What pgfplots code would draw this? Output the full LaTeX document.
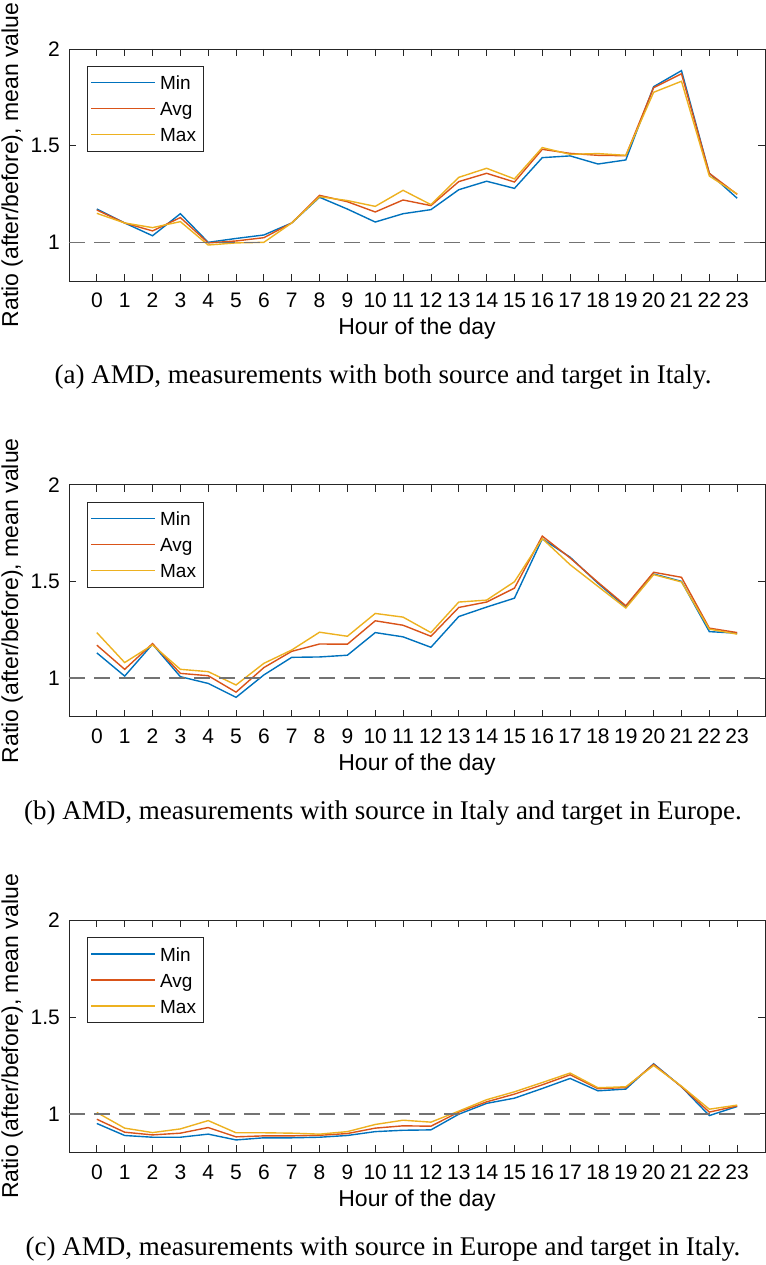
\documentclass[border=0pt]{standalone}
\usepackage{fontspec}
\setmainfont{Liberation Serif}
\setsansfont{Liberation Sans}
\usepackage{pgfplots}
\usepackage{pgfplotstable}
\pgfplotsset{compat=1.18}
\definecolor{mblue}{rgb}{0,0.447,0.741}
\definecolor{mred}{rgb}{0.85,0.325,0.098}
\definecolor{myel}{rgb}{0.929,0.694,0.125}
\definecolor{axgray}{rgb}{0.15,0.15,0.15}
\definecolor{dgray}{rgb}{0.45,0.45,0.45}

\pgfplotstableread{
h min avg max
0 1.172 1.167 1.150
1 1.100 1.100 1.100
2 1.034 1.059 1.076
3 1.148 1.128 1.107
4 1.000 0.997 0.986
5 1.020 1.007 0.997
6 1.038 1.024 1.000
7 1.100 1.100 1.100
8 1.233 1.243 1.236
9 1.172 1.210 1.216
10 1.105 1.157 1.186
11 1.148 1.219 1.269
12 1.169 1.190 1.195
13 1.272 1.314 1.336
14 1.316 1.357 1.383
15 1.279 1.312 1.328
16 1.438 1.481 1.490
17 1.447 1.460 1.455
18 1.405 1.450 1.459
19 1.426 1.448 1.450
20 1.805 1.800 1.776
21 1.888 1.872 1.833
22 1.357 1.357 1.343
23 1.228 1.248 1.250
}\tableA

\pgfplotstableread{
h min avg max
0 1.130 1.170 1.235
1 1.010 1.045 1.080
2 1.175 1.178 1.171
3 1.007 1.024 1.045
4 0.972 1.012 1.033
5 0.900 0.927 0.964
6 1.016 1.054 1.076
7 1.107 1.138 1.145
8 1.109 1.176 1.237
9 1.118 1.175 1.216
10 1.235 1.296 1.334
11 1.213 1.273 1.315
12 1.159 1.216 1.235
13 1.318 1.365 1.393
14 1.367 1.393 1.403
15 1.413 1.465 1.498
16 1.720 1.734 1.721
17 1.625 1.621 1.586
18 1.490 1.495 1.474
19 1.367 1.374 1.362
20 1.538 1.547 1.535
21 1.500 1.521 1.497
22 1.240 1.258 1.253
23 1.232 1.235 1.227
}\tableB

\pgfplotstableread{
h min avg max
0 0.950 0.972 1.007
1 0.888 0.905 0.926
2 0.879 0.891 0.903
3 0.879 0.900 0.922
4 0.895 0.929 0.965
5 0.865 0.881 0.902
6 0.876 0.886 0.902
7 0.876 0.886 0.900
8 0.879 0.889 0.895
9 0.888 0.898 0.908
10 0.908 0.926 0.945
11 0.915 0.938 0.967
12 0.917 0.936 0.957
13 0.998 1.009 1.014
14 1.054 1.062 1.073
15 1.081 1.102 1.114
16 1.131 1.150 1.162
17 1.183 1.202 1.211
18 1.119 1.130 1.135
19 1.128 1.136 1.140
20 1.259 1.256 1.250
21 1.140 1.140 1.143
22 0.991 1.009 1.024
23 1.038 1.041 1.045
}\tableC

\pgfplotsset{panel/.style={
  scale only axis, width=696bp, height=232bp,
  anchor=south west,
  xmin=-1, xmax=24, ymin=0.8, ymax=2,
  xtick={0,...,23}, ytick={1,1.5,2},
  tick align=inside, major tick length=7bp,
  tick style={axgray, line width=0.8bp},
  axis line style={axgray, line width=0.8bp},
  /pgf/number format/assume math mode=true,
  ticklabel style={font=\sffamily\fontsize{21bp}{25bp}\selectfont, inner sep=0pt},
  xticklabel style={anchor=base, yshift=-26.5bp},
  yticklabel style={anchor=east, xshift=-9bp},
  xlabel={Hour of the day},
  ylabel={Ratio (after/before), mean value},
  label style={font=\sffamily\fontsize{23bp}{27bp}\selectfont, inner sep=0pt},
  xlabel style={at={(axis description cs:0.5,-0.2328)}, anchor=base},
  ylabel style={at={(axis description cs:-0.07328,0.5)}, anchor=base, rotate=0},
  legend style={at={(axis description cs:0.0259,0.927)}, anchor=north west,
    draw=axgray, fill=white,
    font=\sffamily\fontsize{19bp}{22bp}\selectfont,
    inner xsep=3.5bp, inner ysep=8bp, row sep=9bp,
    nodes={inner xsep=4bp, inner ysep=1.5bp, text height=14bp, text depth=0bp}},
  legend cell align=left,
  legend image code/.code={\draw[#1, line width=1.4bp, solid] (0bp,0bp) -- (64bp,0bp);},
  every axis plot/.append style={line width=1.4bp},
}}

\begin{document}
\begin{tikzpicture}
\begin{axis}[panel, at={(69bp,984bp)}]
\addplot[draw=mblue] table[x=h,y=min]{\tableA};
\addplot[draw=mred] table[x=h,y=avg]{\tableA};
\addplot[draw=myel] table[x=h,y=max]{\tableA};
\addplot[draw=dgray, dash pattern=on 16bp off 9bp, forget plot] coordinates {(-1,1) (24,1)};
\legend{Min,Avg,Max}
\end{axis}
\begin{axis}[panel, at={(69bp,548.3bp)}]
\addplot[draw=mblue] table[x=h,y=min]{\tableB};
\addplot[draw=mred] table[x=h,y=avg]{\tableB};
\addplot[draw=myel] table[x=h,y=max]{\tableB};
\addplot[draw=dgray, dash pattern=on 16bp off 9bp, forget plot] coordinates {(-1,1) (24,1)};
\legend{Min,Avg,Max}
\end{axis}
\begin{axis}[panel, at={(69bp,112.5bp)}]
\addplot[draw=mblue] table[x=h,y=min]{\tableC};
\addplot[draw=mred] table[x=h,y=avg]{\tableC};
\addplot[draw=myel] table[x=h,y=max]{\tableC};
\addplot[draw=dgray, dash pattern=on 16bp off 9bp, forget plot] coordinates {(-1,1) (24,1)};
\legend{Min,Avg,Max}
\end{axis}
\node[anchor=base, inner sep=0pt, font=\rmfamily\fontsize{27bp}{32bp}\selectfont] at (383bp,881bp) {(a) AMD, measurements with both source and target in Italy.};
\node[anchor=base, inner sep=0pt, font=\rmfamily\fontsize{27bp}{32bp}\selectfont] at (383bp,445.2bp) {(b) AMD, measurements with source in Italy and target in Europe.};
\node[anchor=base, inner sep=0pt, font=\rmfamily\fontsize{27bp}{32bp}\selectfont] at (383bp,9.4bp) {(c) AMD, measurements with source in Europe and target in Italy.};
\pgfresetboundingbox
\path[use as bounding box] (0,0) rectangle (766bp,1265bp);
\end{tikzpicture}
\end{document}
